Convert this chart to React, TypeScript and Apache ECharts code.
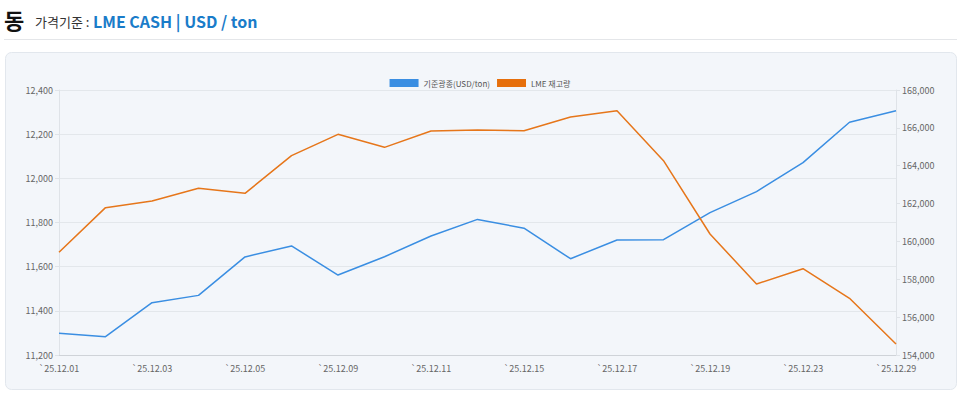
import React, { useEffect, useRef } from "react";
import * as echarts from "echarts";

const categories = [
  "`25.12.01", "`25.12.02", "`25.12.03", "`25.12.04", "`25.12.05",
  "`25.12.08", "`25.12.09", "`25.12.10", "`25.12.11", "`25.12.12",
  "`25.12.15", "`25.12.16", "`25.12.17", "`25.12.18", "`25.12.19",
  "`25.12.22", "`25.12.23", "`25.12.24", "`25.12.29",
];
const priceValues = [
  11298, 11283, 11437, 11470, 11644, 11694, 11562, 11645, 11739, 11814,
  11774, 11636, 11721, 11722, 11845, 11940, 12071, 12254, 12306,
];
const stockValues = [
  159424, 161784, 162136, 162805, 162541, 164531, 165658, 164971, 165834, 165887,
  165852, 166574, 166908, 164267, 160392, 157751, 158561, 156994, 154581,
];
const seriesNames = ["기준광종(USD/ton)", "LME 재고량"];

const FONT = "'Noto Sans CJK KR', 'Noto Sans', sans-serif";

export default function App() {
  const ref = useRef<HTMLDivElement>(null);
  useEffect(() => {
    if (!ref.current) return;
    const chart = echarts.init(ref.current, undefined, { renderer: "svg" });
    chart.setOption({
      animation: false,
      textStyle: { fontFamily: FONT },
      graphic: [
        {
          type: "rect",
          shape: { x: 5.5, y: 52.5, width: 951, height: 337, r: 6 },
          style: { fill: "#f3f6fa", stroke: "#e2e7ed", lineWidth: 1 },
          z: -10,
        },
        {
          type: "line",
          shape: { x1: 4, y1: 39.5, x2: 957, y2: 39.5 },
          style: { stroke: "#e4e6e9", lineWidth: 1 },
        },
        {
          type: "text",
          x: 4,
          y: 19,
          style: {
            text: "동",
            font: `bold 22px ${FONT}`,
            fill: "#111",
            verticalAlign: "middle",
          },
        },
        {
          type: "text",
          x: 35,
          y: 21,
          style: {
            text: "가격기준 :",
            font: `13px ${FONT}`,
            fill: "#333",
            verticalAlign: "middle",
          },
        },
        {
          type: "text",
          x: 93,
          y: 21,
          style: {
            text: "LME CASH | USD / ton",
            font: `bold 16px ${FONT}`,
            fill: "#1a7cc9",
            verticalAlign: "middle",
          },
        },
      ],
      legend: {
        top: 74,
        left: "center",
        itemWidth: 29,
        itemHeight: 8,
        itemGap: 7,
        icon: "rect",
        textStyle: { fontSize: 8, color: "#555", fontFamily: FONT },
        data: seriesNames,
      },
      grid: { left: 59, right: 64, top: 90, bottom: 39 },
      xAxis: {
        type: "category",
        data: categories,
        boundaryGap: false,
        axisLine: { lineStyle: { color: "#cfd3d8" } },
        axisTick: { show: false },
        axisLabel: { interval: 1, fontSize: 9, color: "#666", margin: 9 },
      },
      yAxis: [
        {
          type: "value",
          min: 11200,
          max: 12400,
          interval: 200,
          axisLine: { show: true, lineStyle: { color: "#dfe3e8" } },
          axisTick: { show: true, length: 4, lineStyle: { color: "#dfe3e8" } },
          axisLabel: {
            fontSize: 9,
            color: "#666",
            margin: 6,
            formatter: (v: number) => v.toLocaleString("en-US"),
          },
          splitLine: { lineStyle: { color: "#e3e7eb" } },
        },
        {
          type: "value",
          min: 154000,
          max: 168000,
          interval: 2000,
          position: "right",
          axisLine: { show: true, lineStyle: { color: "#dfe3e8" } },
          axisTick: { show: true, length: 4, lineStyle: { color: "#dfe3e8" } },
          axisLabel: {
            fontSize: 9,
            color: "#666",
            margin: 6,
            formatter: (v: number) => v.toLocaleString("en-US"),
          },
          splitLine: { show: false },
        },
      ],
      series: [
        {
          name: seriesNames[0],
          type: "line",
          yAxisIndex: 0,
          data: priceValues,
          showSymbol: false,
          symbol: "none",
          color: "#3a8ee2",
          lineStyle: { width: 1.5, color: "#3a8ee2" },
        },
        {
          name: seriesNames[1],
          type: "line",
          yAxisIndex: 1,
          data: stockValues,
          showSymbol: false,
          symbol: "none",
          color: "#e66f0c",
          lineStyle: { width: 1.5, color: "#e6761a" },
        },
      ],
    });
    return () => chart.dispose();
  }, []);
  return (
    <div
      ref={ref}
      style={{ position: "absolute", left: 0, top: 0, width: 960, height: 394, background: "#fff" }}
    />
  );
}
